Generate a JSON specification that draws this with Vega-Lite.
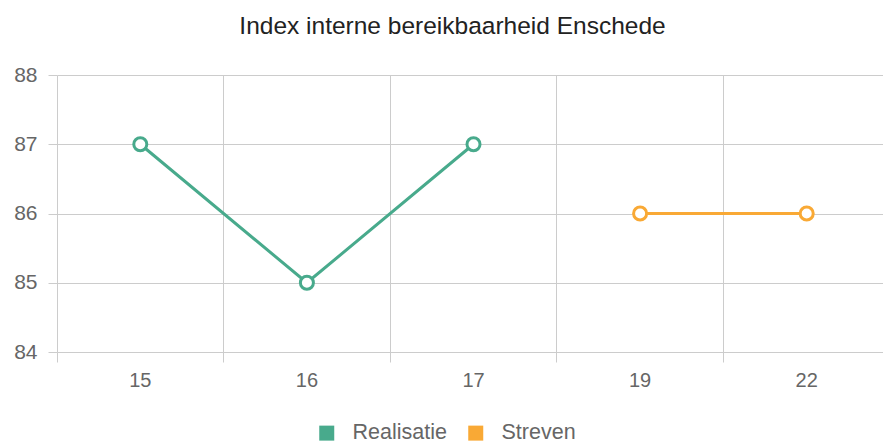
{
  "$schema": "https://vega.github.io/schema/vega-lite/v6.json",
  "autosize": "none",
  "padding": {"left": 57, "top": 75, "right": 0, "bottom": 93},
  "width": 833,
  "height": 277,
  "background": "white",
  "title": {
    "text": "Index interne bereikbaarheid Enschede",
    "font": "Liberation Sans",
    "fontSize": 24.5,
    "fontWeight": "normal",
    "color": "#222222",
    "anchor": "middle",
    "dx": -21,
    "offset": 25
  },
  "config": {
    "view": {"stroke": null},
    "font": "Liberation Sans"
  },
  "data": {
    "values": [
      {"jaar": "15", "waarde": 87, "serie": "Realisatie"},
      {"jaar": "16", "waarde": 85, "serie": "Realisatie"},
      {"jaar": "17", "waarde": 87, "serie": "Realisatie"},
      {"jaar": "19", "waarde": 86, "serie": "Streven"},
      {"jaar": "22", "waarde": 86, "serie": "Streven"}
    ]
  },
  "encoding": {
    "x": {
      "field": "jaar",
      "type": "nominal",
      "sort": ["15", "16", "17", "19", "22"],
      "scale": {"type": "band", "paddingInner": 0, "paddingOuter": 0},
      "axis": {
        "title": null,
        "bandPosition": 0,
        "labelAngle": 0,
        "grid": true,
        "gridColor": "#cccccc",
        "gridWidth": 1,
        "ticks": true,
        "tickSize": 10,
        "tickColor": "#cccccc",
        "domain": false,
        "labelFont": "Liberation Sans",
        "labelFontSize": 20,
        "labelColor": "#666666",
        "labelPadding": 8
      }
    },
    "y": {
      "field": "waarde",
      "type": "quantitative",
      "scale": {"domain": [84, 88], "nice": false, "zero": false},
      "axis": {
        "title": null,
        "values": [84, 85, 86, 87, 88],
        "grid": true,
        "gridColor": "#cccccc",
        "ticks": true,
        "tickSize": 9,
        "tickColor": "#cccccc",
        "domain": false,
        "labelFont": "Liberation Sans",
        "labelFontSize": 21,
        "labelColor": "#666666",
        "labelPadding": 11
      }
    },
    "color": {
      "field": "serie",
      "type": "nominal",
      "scale": {"domain": ["Realisatie", "Streven"], "range": ["#48aa8c", "#f9a935"]},
      "legend": {
        "title": null,
        "orient": "none",
        "legendX": 259,
        "legendY": 347,
        "direction": "horizontal",
        "symbolType": "square",
        "symbolSize": 225,
        "symbolStrokeWidth": 0,
        "labelFont": "Liberation Sans",
        "labelFontSize": 21.5,
        "labelColor": "#666666",
        "labelOffset": 15,
        "columnPadding": 18,
        "encode": {
          "symbols": {
            "update": {
              "fill": {"scale": "color", "field": "value"},
              "fillOpacity": {"value": 1},
              "strokeWidth": {"value": 0}
            }
          }
        }
      }
    }
  },
  "layer": [
    {"mark": {"type": "line", "strokeWidth": 3}},
    {"mark": {"type": "point", "filled": false, "fill": "white", "fillOpacity": 1, "strokeWidth": 3, "size": 170, "opacity": 1}}
  ]
}
